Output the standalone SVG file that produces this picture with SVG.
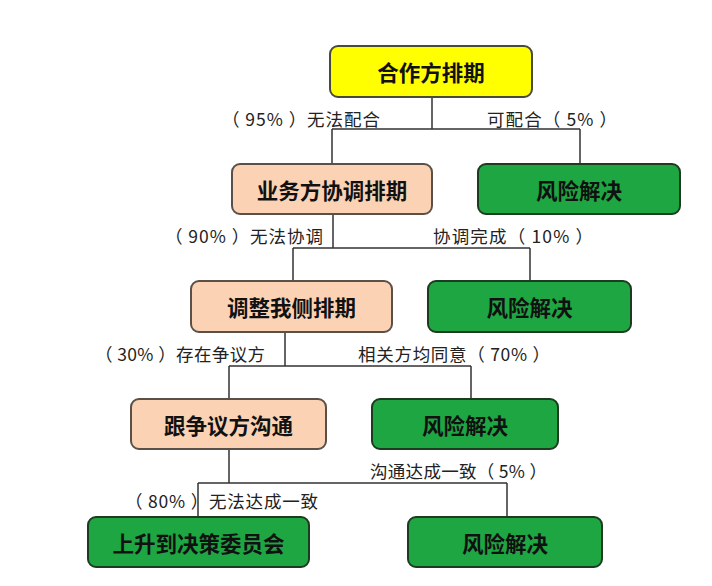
<svg xmlns="http://www.w3.org/2000/svg" width="712" height="586" viewBox="0 0 712 586">
<style>
.box{stroke-width:2}
.y{fill:#FFFF00;stroke:#4a4a3a}
.p{fill:#FBD3B4;stroke:#5a5048}
.g{fill:#1EA643;stroke:#1d3b20}
.t{font-family:"Noto Sans CJK SC","Liberation Sans",sans-serif;font-weight:bold;font-size:21.5px;fill:#111;text-anchor:middle;dominant-baseline:central}
.l{font-family:"Noto Sans CJK SC","Liberation Sans",sans-serif;font-size:17.5px;fill:#222;dominant-baseline:central}
.c{fill:none;stroke:#333;stroke-width:1.5}
</style>
<rect width="712" height="586" fill="#fff"/>
<g id="connectors">
<path class="c" d="M432 97V129M332 129H580M332 129V164M580 129V164"/>
<path class="c" d="M333 214V248M293 248H530M293 248V281M530 248V281"/>
<path class="c" d="M285 332V366M229 366H471M229 366V399M471 366V399"/>
<path class="c" d="M229 449V483M198 483H507M198 483V517M507 483V517"/>
</g>
<g id="labels">
<text class="l" x="222" y="118" textLength="158" lengthAdjust="spacing">（ 95% ）无法配合</text>
<text class="l" x="487" y="118" textLength="130" lengthAdjust="spacing">可配合（ 5% ）</text>
<text class="l" x="165" y="235" textLength="158" lengthAdjust="spacing">（ 90% ）无法协调</text>
<text class="l" x="433" y="235" textLength="160" lengthAdjust="spacing">协调完成（ 10% ）</text>
<text class="l" x="95" y="353" textLength="170" lengthAdjust="spacing">（ 30% ）存在争议方</text>
<text class="l" x="358" y="353" textLength="192" lengthAdjust="spacing">相关方均同意（ 70% ）</text>
<text class="l" x="370" y="470" textLength="177" lengthAdjust="spacing">沟通达成一致（ 5% ）</text>
<text class="l" x="125" y="500" textLength="193" lengthAdjust="spacing">（ 80% ）无法达成一致</text>
</g>
<g id="n1"><rect class="box y" x="330" y="46" width="202" height="51" rx="8"/><text class="t" x="431" y="71.5">合作方排期</text></g>
<g id="n2"><rect class="box p" x="232" y="164" width="200" height="50" rx="8"/><text class="t" x="332" y="189">业务方协调排期</text></g>
<g id="n3"><rect class="box g" x="478" y="164" width="202" height="50" rx="8"/><text class="t" x="579" y="189">风险解决</text></g>
<g id="n4"><rect class="box p" x="191" y="281" width="201" height="51" rx="8"/><text class="t" x="291.5" y="306.5">调整我侧排期</text></g>
<g id="n5"><rect class="box g" x="428" y="281" width="203" height="51" rx="8"/><text class="t" x="529.5" y="306.5">风险解决</text></g>
<g id="n6"><rect class="box p" x="131" y="399" width="195" height="50" rx="8"/><text class="t" x="228.5" y="424">跟争议方沟通</text></g>
<g id="n7"><rect class="box g" x="372" y="399" width="186" height="50" rx="8"/><text class="t" x="465" y="424">风险解决</text></g>
<g id="n8"><rect class="box g" x="88" y="517" width="221" height="50" rx="8"/><text class="t" x="198.5" y="542">上升到决策委员会</text></g>
<g id="n9"><rect class="box g" x="408" y="517" width="194" height="50" rx="8"/><text class="t" x="505" y="542">风险解决</text></g>
</svg>
